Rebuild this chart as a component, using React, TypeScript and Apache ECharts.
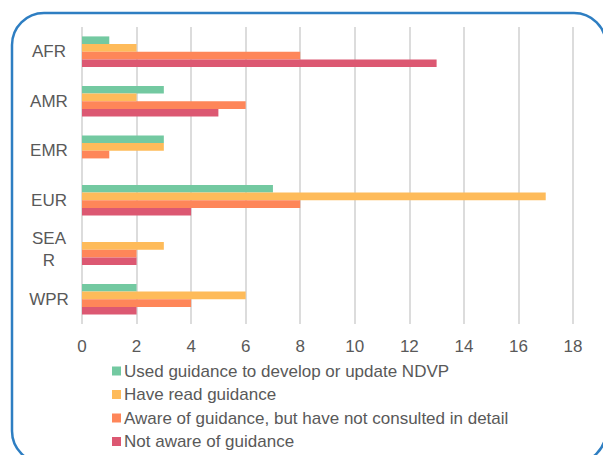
import React, { useEffect, useRef } from "react";
import * as echarts from "echarts";

const categories = ["AFR", "AMR", "EMR", "EUR", "SEAR", "WPR"];
const seriesNames = [
  "Used guidance to develop or update NDVP",
  "Have read guidance",
  "Aware of guidance, but have not consulted in detail",
  "Not aware of guidance",
];
const usedGuidance = [1, 3, 3, 7, 0, 2];
const readGuidance = [2, 2, 3, 17, 3, 6];
const awareNotConsulted = [8, 6, 1, 8, 2, 4];
const notAware = [13, 5, 0, 4, 2, 2];
const colors = ["#73C9A1", "#FEBB5A", "#FE8659", "#DC5872"];
const xTicks = [0, 2, 4, 6, 8, 10, 12, 14, 16, 18];

export default function App() {
  const ref = useRef<HTMLDivElement>(null);
  useEffect(() => {
    if (!ref.current) return;
    const chart = echarts.init(ref.current, undefined, { renderer: "svg" });
    const values = [usedGuidance, readGuidance, awareNotConsulted, notAware];
    chart.setOption({
      animation: false,
      textStyle: { fontFamily: "Liberation Sans, Arial, sans-serif" },
      graphic: [
        {
          type: "rect",
          shape: { x: 12, y: 13, width: 594, height: 450, r: 32 },
          style: { fill: "none", stroke: "#2E7EC2", lineWidth: 2.5 },
          silent: true,
          z: 10,
        },
      ],
      grid: { left: 82, right: 30, top: 27, bottom: 131, containLabel: false },
      xAxis: {
        type: "value",
        min: xTicks[0],
        max: xTicks[xTicks.length - 1],
        interval: 2,
        axisLine: { show: false },
        axisTick: { show: false },
        splitLine: { show: true, lineStyle: { color: "#D9D9D9", width: 1.8 } },
        axisLabel: { color: "#595959", fontSize: 17, margin: 14 },
      },
      yAxis: {
        type: "category",
        data: categories,
        inverse: true,
        axisLine: { show: false },
        axisTick: { show: false },
        axisLabel: {
          color: "#595959",
          fontSize: 17,
          margin: 33,
          align: "center",
          formatter: (v: string) => (v === "SEAR" ? "SEA\nR" : v),
          lineHeight: 22,
        },
      },
      legend: {
        orient: "vertical",
        left: 107,
        top: 357,
        height: 100,
        itemWidth: 9,
        itemHeight: 9,
        itemGap: 5.5,
        icon: "rect",
        textStyle: { color: "#595959", fontSize: 17, lineHeight: 18, padding: [0, 0, 0, -2] },
        data: seriesNames,
      },
      series: seriesNames.map((name, i) => ({
        name,
        type: "bar",
        data: values[i],
        itemStyle: { color: colors[i] },
        barGap: "0%",
        barCategoryGap: "38%",
      })),
    });
    return () => chart.dispose();
  }, []);
  return (
    <div
      ref={ref}
      style={{ position: "fixed", left: 0, top: 0, width: 603, height: 455, background: "#fff" }}
    />
  );
}
